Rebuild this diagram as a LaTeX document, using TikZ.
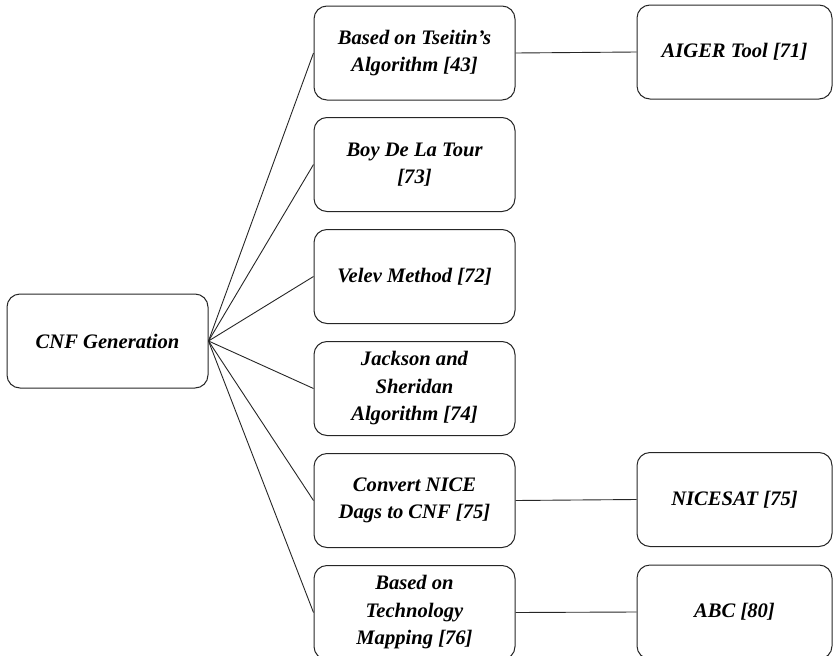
\documentclass[tikz,border=0pt]{standalone}
\usepackage{fontspec}
\setmainfont{Liberation Serif}
\begin{document}
\begin{tikzpicture}[x=1pt,y=-1pt,
  box/.style={draw=black!85, line width=1pt, rounded corners=13pt,
    minimum width=201pt, minimum height=94pt, align=center,
    font=\fontsize{20.6}{27.5}\selectfont\bfseries\itshape, inner sep=2pt},
  rbox/.style={box, minimum width=195pt},
  link/.style={draw=black!85, line width=0.9pt}]
\useasboundingbox (0,0) rectangle (833,656);
\clip (0,0) rectangle (833,656);
\node[box] (cnf) at (107.5,341) {CNF Generation};
\node[box] (m1) at (414.5,53) {Based on Tseitin's\\Algorithm [43]};
\node[box] (m2) at (414.5,164.5) {Boy De La Tour\\{}[73]};
\node[box] (m3) at (414.5,276.5) {Velev Method [72]};
\node[box] (m4) at (414.5,388.5) {Jackson and\\Sheridan\\Algorithm [74]};
\node[box] (m5) at (414.5,500.5) {Convert NICE\\Dags to CNF [75]};
\node[box] (m6) at (414.5,612.5) {Based on\\Technology\\Mapping [76]};
\node[rbox] (r1) at (734.5,52) {AIGER Tool [71]};
\node[rbox] (r5) at (734.5,499.5) {NICESAT [75]};
\node[rbox] (r6) at (734.5,612) {ABC [80]};
\foreach \m in {m1,m2,m3,m4,m5,m6}
  \draw[link] (cnf.east) -- (\m.west);
\draw[link] (m1.east) -- (r1.west);
\draw[link] (m5.east) -- (r5.west);
\draw[link] (m6.east) -- (r6.west);
\end{tikzpicture}
\end{document}
